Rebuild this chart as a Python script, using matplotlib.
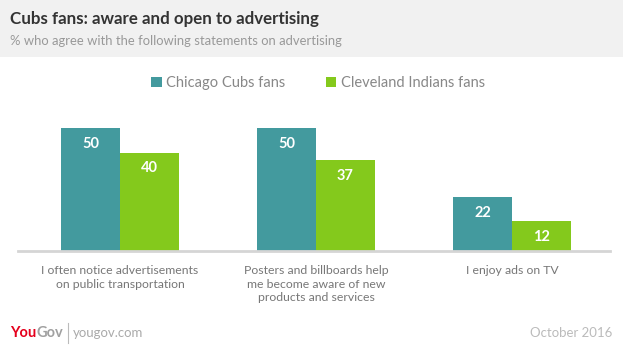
import matplotlib
matplotlib.use("Agg")
import matplotlib.pyplot as plt
from matplotlib.patches import Rectangle
import numpy as np

categories = ["I often notice advertisements\non public transportation",
              "Posters and billboards help\nme become aware of new\nproducts and services",
              "I enjoy ads on TV"]
series_names = ["Chicago Cubs fans", "Cleveland Indians fans"]
cubs = [50, 50, 22]
indians = [40, 37, 12]

TEAL = "#439A9E"
GREEN = "#84C91C"
W, H = 623, 355
fig = plt.figure(figsize=(W/100, H/100), dpi=100)
fig.patch.set_facecolor("white")

# header band
fig.patches.append(Rectangle((0, 1 - 57/H), 1, 57/H, transform=fig.transFigure,
                             facecolor="#F1F1F1", edgecolor="none", zorder=0))
fig.text(10/W, 1 - 19/H, "Cubs fans: aware and open to advertising", fontsize=12.2,
         fontweight="bold", color="#333333", va="center", ha="left", family="Lato")
fig.text(10/W, 1 - 41/H, "% who agree with the following statements on advertising",
         fontsize=9.4, color="#999999", va="center", ha="left", family="Lato")

ax = fig.add_axes([18/W, 1 - 251/H, (610-18)/W, 151/H])
x = np.arange(len(categories))
bw = 0.30
b1 = ax.bar(x - bw/2, cubs, bw, color=TEAL, label=series_names[0])
b2 = ax.bar(x + bw/2, indians, bw, color=GREEN, label=series_names[1])
for bars, vals in ((b1, cubs), (b2, indians)):
    for r, v in zip(bars, vals):
        ax.text(r.get_x() + r.get_width()/2, v - 3.5, str(v), ha="center", va="top",
                color="white", fontsize=10.5, fontweight="bold", family="Lato")
ax.set_xlim(-0.52, 2.50)
ax.set_ylim(0, 61.4)
for s in ("top", "right", "left"):
    ax.spines[s].set_visible(False)
ax.spines["bottom"].set_color("#D5D5D5")
ax.spines["bottom"].set_linewidth(2)
ax.set_yticks([])
ax.set_xticks(x)
ax.set_xticklabels(categories, fontsize=8.8, color="#777777", family="Lato", linespacing=1.3)
ax.tick_params(axis="x", length=0, pad=10)

leg = fig.legend(handles=[b1, b2], labels=series_names, loc="center",
                 bbox_to_anchor=(318/W, 1 - 83/H), ncol=2, frameon=False,
                 handlelength=0.7, handleheight=0.7, handletextpad=0.3,
                 columnspacing=2.8, prop={"family": "Lato", "size": 10.5})
for t in leg.get_texts():
    t.set_color("#888888")

# footer
fig.canvas.draw()
r = fig.canvas.get_renderer()
t1 = fig.text(10/W, 1 - 333/H, "You", color="#E5001C", fontsize=10.5, fontweight="bold",
              va="center", ha="left", family="Lato")
w1 = t1.get_window_extent(renderer=r).width
t2 = fig.text((10 + w1)/W, 1 - 333/H, "Gov", color="#A0A0A0", fontsize=10.5, fontweight="bold",
              va="center", ha="left", family="Lato")
w2 = t2.get_window_extent(renderer=r).width
xs = 10 + w1 + w2 + 5
fig.lines.append(plt.Line2D([xs/W, xs/W], [1 - 343/H, 1 - 323/H], transform=fig.transFigure,
                            color="#BBBBBB", lw=0.8))
fig.text((xs + 5)/W, 1 - 333/H, "yougov.com", color="#AAAAAA", fontsize=9.5,
         va="center", ha="left", family="Lato")
fig.text(612/W, 1 - 333/H, "October 2016", color="#BBBBBB", fontsize=9.5,
         va="center", ha="right", family="Lato")

fig.savefig("out.png", dpi=100)
